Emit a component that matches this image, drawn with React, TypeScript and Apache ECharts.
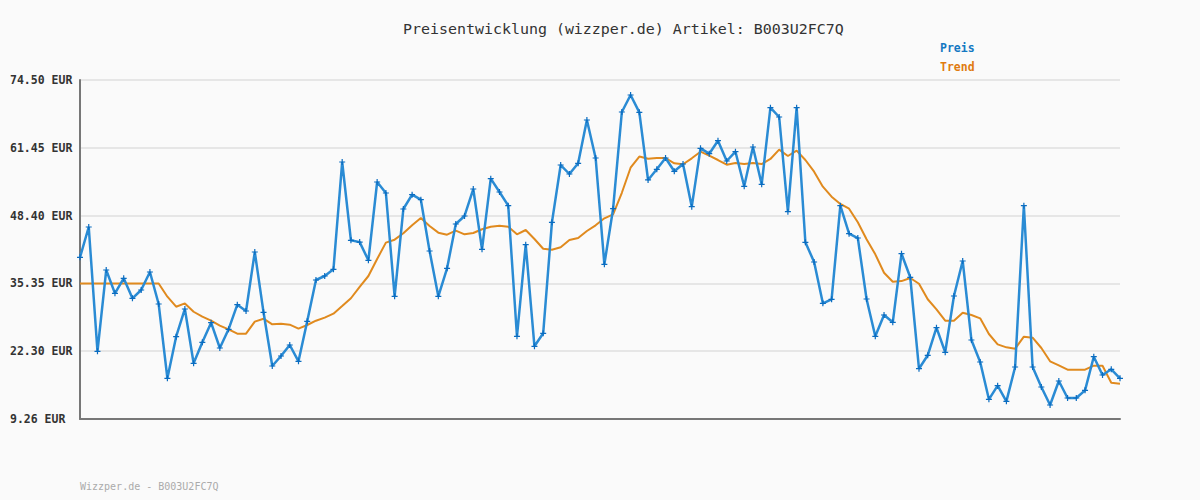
import React, { useEffect, useRef } from "react";
import * as echarts from "echarts";

const titleText = "Preisentwicklung (wizzper.de) Artikel: B003U2FC7Q";
const footerText = "Wizzper.de - B003U2FC7Q";
const seriesNames = ["Preis", "Trend"];
const yTicks = [9.26, 22.3, 35.35, 48.4, 61.45, 74.5];

const preis = [
  40.37, 46.21, 22.28, 37.93, 33.44, 36.33, 32.48, 34.09, 37.55, 31.39,
  17.09, 25.1, 30.43, 19.98, 24.02, 27.79, 22.92, 26.52, 31.26, 30.04,
  41.4, 29.79, 19.46, 21.38, 23.5, 20.36, 28.06, 36.01, 36.78, 38.07,
  58.72, 43.65, 43.3, 39.8, 54.87, 52.75, 32.87, 49.67, 52.43, 51.47,
  41.59, 32.87, 38.26, 46.79, 48.33, 53.52, 41.92, 55.51, 52.95, 50.31,
  25.17, 42.8, 23.25, 25.75, 47.11, 58.14, 56.41, 58.47, 66.8, 59.49,
  39.03, 49.73, 68.34, 71.61, 68.28, 55.26, 57.31, 59.49, 56.93, 58.33,
  50.12, 61.35, 60.32, 62.82, 58.91, 60.7, 54.04, 61.61, 54.42, 69.17,
  67.38, 49.16, 69.17, 43.27, 39.47, 31.53, 32.3, 50.31, 44.92, 44.09,
  32.35, 25.17, 29.27, 27.87, 41.07, 36.53, 18.94, 21.52, 26.83, 22.1,
  32.93, 39.67, 24.46, 20.23, 13.05, 15.67, 12.66, 19.27, 50.31, 19.27,
  15.42, 11.95, 16.57, 13.3, 13.3, 14.78, 21.25, 17.73, 18.82, 17.09,
];

const trend = [
  35.35, 35.35, 35.35, 35.35, 35.35, 35.35, 35.35, 35.35, 35.35, 35.35,
  32.8, 30.87, 31.5, 29.9, 28.95, 28.18, 27.22, 26.52, 25.68, 25.68,
  27.99, 28.56, 27.48, 27.6, 27.41, 26.64, 27.35, 28.18, 28.76, 29.53,
  31.0, 32.5, 34.7, 36.78, 40.05, 43.2, 43.77, 45.0, 46.53, 47.94,
  46.4, 45.12, 44.73, 45.5, 44.8, 45.06, 45.77, 46.27, 46.46, 46.27,
  44.8, 45.63, 43.9, 42.03, 41.84, 42.3, 43.71, 44.09, 45.44, 46.53,
  47.88, 48.65, 52.8, 57.62, 59.77, 59.36, 59.49, 59.49, 58.47, 58.28,
  59.43, 60.7, 59.93, 59.1, 58.2, 58.53, 58.33, 58.53, 58.33, 59.3,
  61.09, 59.87, 60.9, 59.1, 56.86, 53.97, 52.05, 50.64, 49.73, 47.11,
  43.84, 40.95, 37.4, 35.68, 35.8, 36.4, 35.29, 32.3, 30.37, 28.18,
  28.18, 29.72, 29.27, 28.63, 25.62, 23.63, 23.05, 22.8, 25.1, 24.91,
  22.92, 20.36, 19.59, 18.75, 18.75, 18.75, 19.52, 19.52, 16.25, 16.06,
];

const categories = preis.map((_, i) => String(i + 1));

const MONO = "'DejaVu Sans Mono', 'Liberation Mono', monospace";

export default function App() {
  const ref = useRef<HTMLDivElement>(null);
  useEffect(() => {
    if (!ref.current) return;
    const chart = echarts.init(ref.current, null, { renderer: "svg" });
    chart.setOption({
      animation: false,
      backgroundColor: "#fafafa",
      title: {
        text: titleText,
        left: 398,
        top: 16,
        textStyle: {
          fontFamily: MONO,
          fontSize: 14.95,
          fontWeight: "normal",
          color: "#333333",
        },
      },
      legend: {
        orient: "vertical",
        left: 929,
        top: 37,
        itemWidth: 0,
        itemHeight: 0,
        itemGap: 7,
        selectedMode: false,
        data: [
          { name: seriesNames[0], textStyle: { color: "#1478c2" } },
          { name: seriesNames[1], textStyle: { color: "#e07b10" } },
        ],
        textStyle: {
          fontFamily: MONO,
          fontSize: 11.5,
          fontWeight: "bold",
        },
      },
      graphic: [
        {
          type: "text",
          left: 80,
          top: 481,
          style: {
            text: footerText,
            fontFamily: MONO,
            fontSize: 10,
            fill: "#aaaaaa",
          },
        },
      ],
      grid: { left: 80, right: 80, top: 80, bottom: 81, containLabel: false },
      xAxis: {
        type: "category",
        data: categories,
        boundaryGap: false,
        axisLine: { show: true, lineStyle: { color: "#777777", width: 2 } },
        axisTick: { show: false },
        axisLabel: { show: false },
        splitLine: { show: false },
      },
      yAxis: {
        type: "value",
        min: yTicks[0],
        max: yTicks[yTicks.length - 1],
        axisLine: { show: true, lineStyle: { color: "#777777", width: 2 } },
        axisTick: { show: false, customValues: yTicks },
        axisLabel: {
          customValues: yTicks,
          align: "left",
          margin: 70,
          fontFamily: MONO,
          fontSize: 11.5,
          fontWeight: "bold",
          color: "#333333",
          formatter: (v: number) => v.toFixed(2) + " EUR",
        },
        splitLine: { show: true, lineStyle: { color: "#e6e6e6", width: 2 } },
      },
      series: [
        {
          name: seriesNames[1],
          type: "line",
          data: trend,
          symbol: "none",
          lineStyle: { color: "#e08a1e", width: 2 },
          itemStyle: { color: "#e08a1e" },
          z: 2,
        },
        {
          name: seriesNames[0],
          type: "line",
          data: preis,
          symbol: "path://M2,0 L3,0 L3,2 L5,2 L5,3 L3,3 L3,5 L2,5 L2,3 L0,3 L0,2 L2,2 Z",
          symbolSize: 6,
          showSymbol: true,
          showAllSymbol: true,
          lineStyle: { color: "#2a8bd4", width: 2.5 },
          itemStyle: { color: "#0a6cc0" },
          z: 3,
        },
      ],
    });
    return () => chart.dispose();
  }, []);
  return (
    <div
      ref={ref}
      style={{ position: "absolute", left: 0, top: 0, width: 1200, height: 500 }}
    />
  );
}
